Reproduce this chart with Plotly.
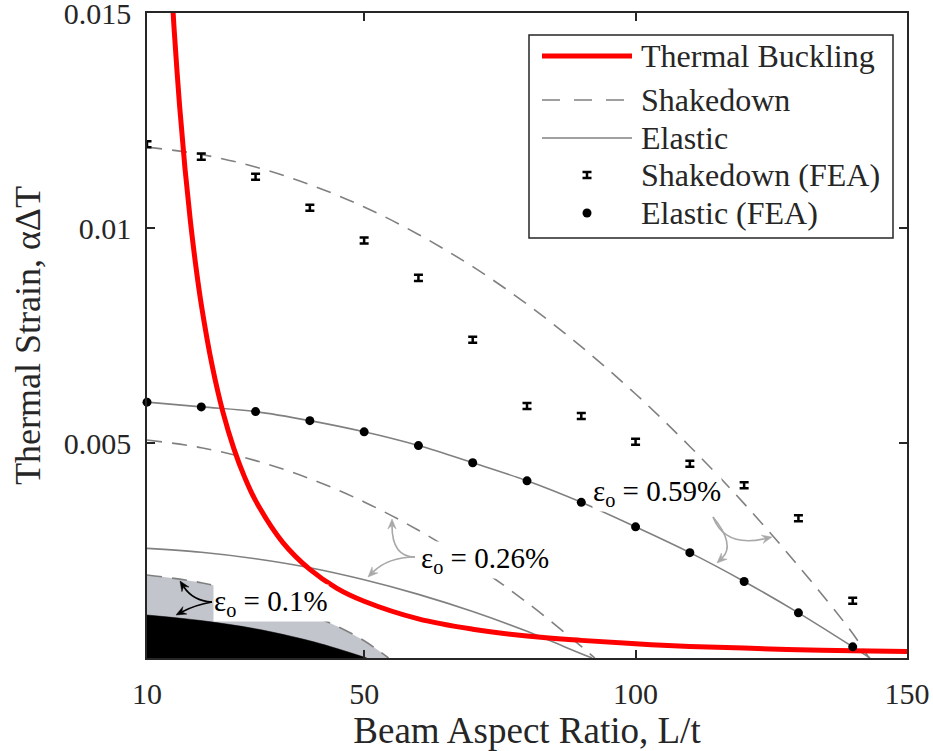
import math
import plotly.graph_objects as go

# ---------------- data ----------------
fea_ratio = [10, 20, 30, 40, 50, 60, 70, 80, 90, 100, 110, 120, 130, 140]
shakedown_fea = [0.01195, 0.01166, 0.01119, 0.01047, 0.00971, 0.00884, 0.00740,
                 0.00586, 0.00563, 0.00503, 0.00452, 0.00402, 0.00325, 0.00133]
shakedown_fea_err = [0.00007] * 14
elastic_fea = [0.00595, 0.00584, 0.00573, 0.00552, 0.00526, 0.00494, 0.00454,
               0.00412, 0.00362, 0.00305, 0.00245, 0.00178, 0.00105, 0.00026]

buckling_ratio = [14.5, 15, 16, 17, 18, 19, 20, 22, 24, 26, 28, 30, 35, 40, 45, 50,
                  60, 70, 80, 90, 100, 110, 120, 130, 140, 150]
buckling_strain = [0.01565, 0.01462, 0.01285, 0.01138, 0.01015, 0.00911, 0.00822,
                   0.00680, 0.00571, 0.00487, 0.00420, 0.00366, 0.00269, 0.00206,
                   0.00162, 0.00132, 0.00091, 0.00067, 0.00051, 0.00041, 0.00033,
                   0.00027, 0.00023, 0.00019, 0.00017, 0.00015]

sd059_ratio = [10, 20, 30, 40, 50, 60, 70, 80, 90, 100, 110, 120, 130, 140, 143]
sd059_strain = [0.01188, 0.01171, 0.01142, 0.01101, 0.01049, 0.00985, 0.00910,
                0.00823, 0.00724, 0.00614, 0.00492, 0.00359, 0.00214, 0.00057, 0.0]
el059_ratio = [10, 20, 30, 40, 50, 60, 70, 80, 90, 100, 110, 120, 130, 140, 143.2]
el059_strain = [0.00595, 0.00584, 0.00573, 0.00552, 0.00526, 0.00494, 0.00454,
                0.00412, 0.00362, 0.00305, 0.00245, 0.00178, 0.00105, 0.00026, 0.0]

sd026_ratio = [10, 20, 30, 40, 50, 60, 70, 80, 90, 92.5]
sd026_strain = [0.00507, 0.00489, 0.00459, 0.00417, 0.00363, 0.00297, 0.00219,
                0.00129, 0.00027, 0.0]
el026_ratio = [10, 20, 30, 40, 50, 60, 70, 80, 90, 92]
el026_strain = [0.00255, 0.00246, 0.00231, 0.00210, 0.00182, 0.00148, 0.00108,
                0.00062, 0.00010, 0.0]

sd010_ratio = [10, 20, 30, 40, 45, 50, 54.5]
sd010_strain = [0.00193, 0.00175, 0.00143, 0.00100, 0.00074, 0.00040, 0.0]
el010_ratio = [10, 20, 30, 40, 45, 50.5]
el010_strain = [0.00100, 0.00087, 0.00068, 0.00040, 0.00022, 0.0]

x_ticks = [10, 50, 100, 150]
y_ticks = [0.005, 0.01, 0.015]
y_ticktext = ["0.005", "0.01", "0.015"]

# ---------------- layout geometry ----------------
W, H = 933, 751
ML, MR, MT, MB = 147, 26, 13, 93
PW, PH = W - ML - MR, H - MT - MB
FONT = "Liberation Serif, Times New Roman, serif"
AX = "#262626"
GRAY = "#808080"
LGRAY = "#a8a8a8"


def px(x, y):
    return (x - ML) / PW, (H - MB - y) / PH


def pstr(x, y):
    a, b = px(x, y)
    return f"{a:.5f},{b:.5f}"


fig = go.Figure()

# filled regions (eps_o = 0.1%)
fig.add_trace(go.Scatter(x=sd010_ratio, y=sd010_strain, mode="lines", fill="tozeroy",
                         fillcolor="#c3c5cc", line=dict(color=GRAY, width=1.6, dash="15px,10px",
                                                         shape="spline"),
                         showlegend=False, hoverinfo="skip"))
fig.add_trace(go.Scatter(x=el010_ratio, y=el010_strain, mode="lines", fill="tozeroy",
                         fillcolor="black", line=dict(color="black", width=0.5, shape="spline"),
                         showlegend=False, hoverinfo="skip"))

# shakedown / elastic analytic lines
for xr, yr, dash in [(sd059_ratio, sd059_strain, "15px,10px"),
                     (sd026_ratio, sd026_strain, "15px,10px"),
                     (el059_ratio, el059_strain, "solid"),
                     (el026_ratio, el026_strain, "solid")]:
    fig.add_trace(go.Scatter(x=xr, y=yr, mode="lines",
                             line=dict(color=GRAY, width=1.6, dash=dash, shape="spline"),
                             showlegend=False))

# thermal buckling
fig.add_trace(go.Scatter(x=buckling_ratio, y=buckling_strain, mode="lines",
                         line=dict(color="#ff0000", width=5, shape="spline"),
                         name="Thermal Buckling", showlegend=False))

# FEA
fig.add_trace(go.Scatter(x=fea_ratio, y=shakedown_fea, mode="markers",
                         marker=dict(size=1, color="black"),
                         error_y=dict(type="data", array=shakedown_fea_err, symmetric=True,
                                      color="black", thickness=2.5, width=4.5),
                         cliponaxis=False, showlegend=False, name="Shakedown (FEA)"))
fig.add_trace(go.Scatter(x=fea_ratio, y=elastic_fea, mode="markers",
                         marker=dict(size=9, color="black"),
                         cliponaxis=False, showlegend=False, name="Elastic (FEA)"))

shapes = []
annotations = []

# ---------------- curved arrows ----------------
arrows = [
    # (tail, control, head, color)
    ((212, 602), (193, 601), (180, 581), "black"),
    ((212, 602), (195, 605), (176, 615), "black"),
    ((415, 557), (392, 557), (392, 519), LGRAY),
    ((415, 557), (388, 557), (368, 577), LGRAY),
    ((713, 517), (736, 545), (717, 563), LGRAY),
    ((713, 517), (725, 548), (772, 537), LGRAY),
]
for tail, ctrl, head, col in arrows:
    dx, dy = head[0] - ctrl[0], head[1] - ctrl[1]
    n = math.hypot(dx, dy)
    ux, uy = dx / n, dy / n
    vx, vy = -uy, ux
    L, Wd, N = 10, 4.2, 6.5
    notch = (head[0] - ux * N, head[1] - uy * N)
    shapes.append(dict(type="path", xref="paper", yref="paper",
                       path=f"M {pstr(*tail)} Q {pstr(*ctrl)} {pstr(*notch)}",
                       line=dict(color=col, width=1.6)))
    b1 = (head[0] - ux * L + vx * Wd, head[1] - uy * L + vy * Wd)
    b2 = (head[0] - ux * L - vx * Wd, head[1] - uy * L - vy * Wd)
    shapes.append(dict(type="path", xref="paper", yref="paper",
                       path=f"M {pstr(*head)} L {pstr(*b1)} L {pstr(*notch)} L {pstr(*b2)} Z",
                       fillcolor=col, line=dict(color=col, width=0.5)))

# ---------------- epsilon labels ----------------
for (cx, cy), label in [((271, 603), "0.1%"), ((485, 560), "0.26%"), ((657, 493), "0.59%")]:
    x0, y0 = px(cx, cy)
    annotations.append(dict(xref="paper", yref="paper", x=x0, y=y0, xanchor="center",
                            yanchor="middle", showarrow=False, bgcolor="white", borderpad=0,
                            text=f"ε<sub>o</sub> = {label}",
                            font=dict(family=FONT, size=29, color="black")))

# ---------------- custom legend ----------------
bx0, by0 = px(529, 238)
bx1, by1 = px(893, 35)
shapes.append(dict(type="rect", xref="paper", yref="paper", x0=bx0, y0=by0, x1=bx1, y1=by1,
                   line=dict(color=AX, width=1.5), fillcolor="white", layer="above"))
rows = [56, 100, 138, 175, 213]
labels = ["Thermal Buckling", "Shakedown", "Elastic", "Shakedown (FEA)", "Elastic (FEA)"]
for ry, lab in zip(rows, labels):
    lx, ly = px(639, ry)
    annotations.append(dict(xref="paper", yref="paper", x=lx, y=ly, xanchor="left",
                            yanchor="middle", showarrow=False, text=lab,
                            font=dict(family=FONT, size=32, color=AX)))
sx0, _ = px(542, 0)
sx1, _ = px(632, 0)
for ry, col, wd, dash in [(56, "#ff0000", 5, "solid"), (100, GRAY, 1.6, "18px,14px"),
                          (138, GRAY, 1.6, "solid")]:
    _, yy = px(0, ry)
    shapes.append(dict(type="line", xref="paper", yref="paper", x0=sx0, x1=sx1, y0=yy, y1=yy,
                       line=dict(color=col, width=wd, dash=dash), layer="above"))
# error bar sample
ecx = 587
for (a, b, c, d) in [(ecx, 172, ecx, 178), (ecx - 4.5, 172, ecx + 4.5, 172),
                     (ecx - 4.5, 178, ecx + 4.5, 178)]:
    p0 = px(a, b); p1 = px(c, d)
    shapes.append(dict(type="line", xref="paper", yref="paper", x0=p0[0], y0=p0[1],
                       x1=p1[0], y1=p1[1], line=dict(color="black", width=2.5), layer="above"))
# dot sample
d0 = px(ecx - 4.5, 213 - 4.5); d1 = px(ecx + 4.5, 213 + 4.5)
shapes.append(dict(type="circle", xref="paper", yref="paper", x0=d0[0], y0=d1[1], x1=d1[0],
                   y1=d0[1], fillcolor="black", line=dict(color="black", width=0), layer="above"))

axis_common = dict(showline=True, mirror="ticks", linecolor=AX, linewidth=1.5,
                   ticks="inside", ticklen=8, tickwidth=1.5, tickcolor=AX,
                   showgrid=False, zeroline=False, ticklabeloverflow="allow",
                   automargin=False,
                   tickfont=dict(family=FONT, size=30, color=AX))

fig.update_layout(
    width=W, height=H,
    margin=dict(l=ML, r=MR, t=MT, b=MB, autoexpand=False),
    paper_bgcolor="white", plot_bgcolor="white",
    showlegend=False,
    xaxis=dict(range=[10, 150], tickvals=x_ticks, ticklabelstandoff=8,
               title=dict(text="Beam Aspect Ratio, L/t", standoff=10,
                          font=dict(family=FONT, size=37, color=AX)),
               **axis_common),
    yaxis=dict(range=[0, 0.015], tickvals=y_ticks, ticktext=y_ticktext, ticklabelstandoff=8,
               title=dict(text="Thermal Strain, αΔT", standoff=12,
                          font=dict(family=FONT, size=36, color=AX)),
               **axis_common),
    shapes=shapes,
    annotations=annotations,
)

fig.write_html("out.html")
